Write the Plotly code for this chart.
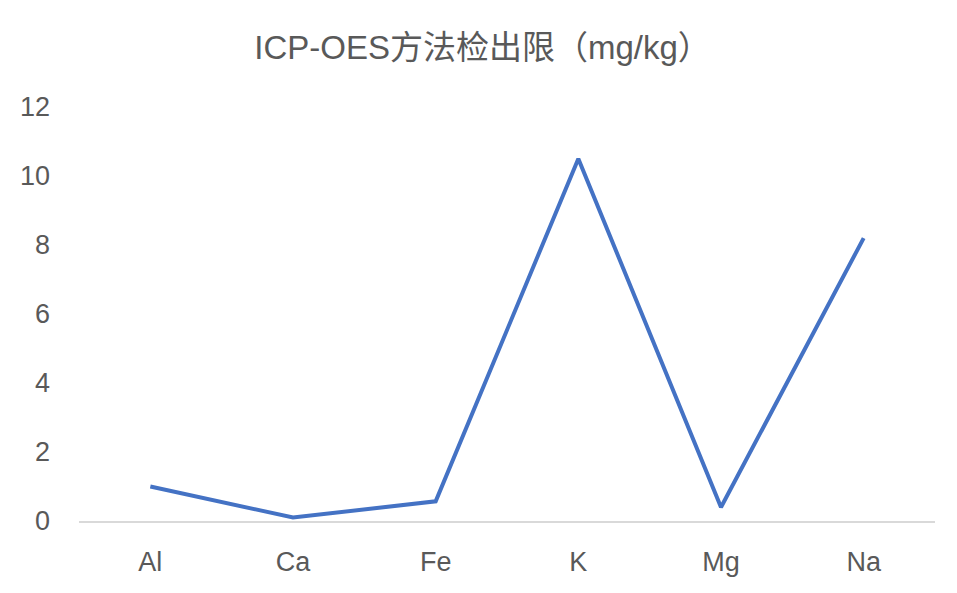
import plotly.graph_objects as go

# ICP-OES detection limits (mg/kg)
elements = ["Al", "Ca", "Fe", "K", "Mg", "Na"]
limits = [1.0, 0.1, 0.57, 10.5, 0.4, 8.2]
y_ticks = [0, 2, 4, 6, 8, 10, 12]

font = "Liberation Sans, Noto Sans CJK SC, sans-serif"
grey = "#595959"

fig = go.Figure()
fig.add_trace(go.Scatter(x=elements, y=limits, mode="lines",
                         line=dict(color="#4472C4", width=4)))

# page body adds an 8px margin, so size/margins are trimmed to compensate
fig.update_layout(
    width=949, height=585,
    margin=dict(l=65, r=22, t=99, b=72),
    paper_bgcolor="white", plot_bgcolor="white",
    showlegend=False,
    title=dict(text="ICP-OES方法检出限（mg/kg）", x=0.5, xanchor="center",
               y=0.932, yanchor="middle",
               font=dict(family=font, size=33, color=grey)),
    font=dict(family=font, color=grey),
)
fig.update_xaxes(type="category", range=[-0.5, 5.5], showgrid=False,
                 showline=True, linecolor="#D9D9D9", linewidth=1.5,
                 ticks="", tickfont=dict(size=27, color=grey),
                 ticklabelstandoff=16)
fig.update_yaxes(range=[0, 12], tickvals=y_ticks, showgrid=False,
                 zeroline=False, showline=False, ticks="",
                 tickfont=dict(size=27, color=grey),
                 ticklabelstandoff=28)

fig.write_html("out.html")
